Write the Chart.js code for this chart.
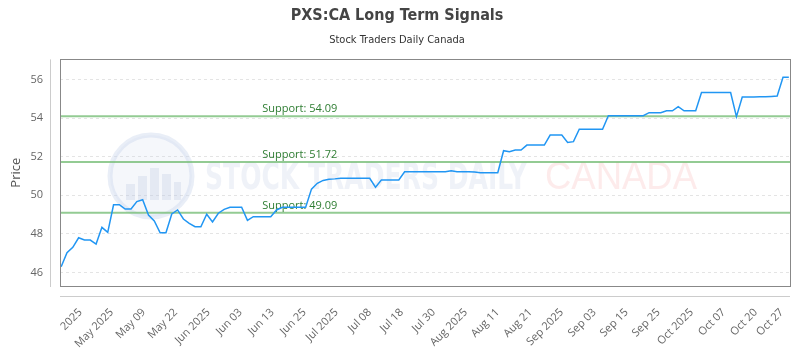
<!DOCTYPE html>
<html>
<head>
<meta charset="utf-8">
<script src="https://cdn.jsdelivr.net/npm/chart.js@4.4.1/dist/chart.umd.min.js"></script>
<style>
  html, body { margin: 0; padding: 0; background: #fff; }
  #wrap { width: 800px; height: 350px; }
</style>
</head>
<body>
<div id="wrap"><canvas id="chart"></canvas></div>
<script>
// closing prices, one per trading day
const prices = [
  46.30, 47.02, 47.30, 47.80, 47.68, 47.68, 47.47, 48.34, 48.08, 49.51,
  49.51, 49.29, 49.29, 49.67, 49.77, 48.98, 48.67, 48.06, 48.06, 49.03,
  49.24, 48.77, 48.55, 48.37, 48.37, 49.02, 48.62, 49.07, 49.27, 49.38,
  49.38, 49.38, 48.70, 48.89, 48.89, 48.89, 48.89, 49.24, 49.38, 49.38,
  49.38, 49.38, 49.38, 50.32, 50.62, 50.77, 50.83, 50.85, 50.88, 50.88,
  50.88, 50.88, 50.88, 50.88, 50.42, 50.79, 50.79, 50.79, 50.79, 51.22,
  51.22, 51.22, 51.22, 51.22, 51.22, 51.22, 51.22, 51.27, 51.22, 51.22,
  51.22, 51.20, 51.17, 51.17, 51.17, 51.17, 52.31, 52.26, 52.34, 52.34,
  52.60, 52.60, 52.60, 52.60, 53.12, 53.12, 53.12, 52.74, 52.78, 53.42,
  53.42, 53.42, 53.42, 53.42, 54.12, 54.12, 54.12, 54.12, 54.12, 54.12,
  54.12, 54.28, 54.28, 54.28, 54.38, 54.38, 54.59, 54.38, 54.38, 54.38,
  55.32, 55.32, 55.32, 55.32, 55.32, 55.32, 54.07, 55.09, 55.09, 55.09,
  55.10, 55.10, 55.12, 55.14, 56.11, 56.11
];

// where the date labels sit along the x axis (in trading-day units)
const tickIndex = [3.3, 8.7, 14.2, 19.7, 25.3, 30.8, 36.3, 41.8, 47.3, 53, 58.5, 64, 69.5, 75, 80.6, 86, 91.6, 97.1, 102.6, 108.3, 113.8, 119.3, 123.8];
const tickLabels = [
  '2025', 'May 2025', 'May 09', 'May 22', 'Jun 2025', 'Jun 03', 'Jun 13', 'Jun 25',
  'Jul 2025', 'Jul 08', 'Jul 18', 'Jul 30', 'Aug 2025', 'Aug 11', 'Aug 21',
  'Sep 2025', 'Sep 03', 'Sep 15', 'Sep 25', 'Oct 2025', 'Oct 07', 'Oct 20', 'Oct 27'
];
const yTicks = [46, 48, 50, 52, 54, 56];
const supportLevels = [54.09, 51.72, 49.09];

const decor = {
  id: 'decor',
  beforeDatasetsDraw(chart) {
    const { ctx, chartArea: a, scales } = chart;
    ctx.save();

    // watermark logo
    ctx.beginPath();
    ctx.arc(151, 176, 41, 0, Math.PI * 2);
    ctx.fillStyle = 'rgba(205,215,235,0.2)';
    ctx.fill();
    ctx.lineWidth = 5;
    ctx.strokeStyle = 'rgba(200,212,235,0.4)';
    ctx.stroke();
    ctx.fillStyle = 'rgba(190,200,225,0.3)';
    [[126, 184, 9, 16], [138, 176, 9, 24], [150, 168, 9, 32], [162, 174, 9, 26], [174, 182, 7, 18]].forEach(r => ctx.fillRect(r[0], r[1], r[2], r[3]));

    ctx.textBaseline = 'middle';
    ctx.font = 'bold 38px "DejaVu Sans Condensed", "DejaVu Sans"';
    ctx.fillStyle = 'rgba(205,215,232,0.32)';
    ctx.fillText('STOCK TRADERS DAILY', 205, 179, 322);
    ctx.font = '38px "Liberation Sans", Arial';
    ctx.fillStyle = 'rgba(250,190,190,0.3)';
    ctx.fillText('CANADA', 545, 179, 152);

    // support lines
    ctx.font = '11px "Open Sans"';
    ctx.textBaseline = 'alphabetic';
    supportLevels.forEach(v => {
      const y = scales.y.getPixelForValue(v);
      ctx.beginPath();
      ctx.moveTo(a.left, y);
      ctx.lineTo(a.right, y);
      ctx.lineWidth = 2;
      ctx.strokeStyle = 'rgba(120,190,120,0.8)';
      ctx.stroke();
      ctx.fillStyle = '#2e7d32';
      ctx.fillText('Support: ' + v.toFixed(2), a.left + a.width * 0.277, y - 4);
    });
    ctx.restore();
  },
  afterDraw(chart) {
    const { ctx, chartArea: a } = chart;
    ctx.save();
    ctx.lineWidth = 1;
    ctx.strokeStyle = '#888';
    ctx.strokeRect(Math.round(a.left) + 0.5, Math.round(a.top) + 0.5, Math.round(a.width), Math.round(a.height));
    ctx.strokeStyle = '#ccc';
    ctx.beginPath();
    ctx.moveTo(Math.round(a.left) - 9.5, a.top);
    ctx.lineTo(Math.round(a.left) - 9.5, a.bottom + 1);
    ctx.moveTo(a.left, Math.round(a.bottom) + 10.5);
    ctx.lineTo(a.right, Math.round(a.bottom) + 10.5);
    ctx.stroke();
    ctx.restore();
  }
};

new Chart(document.getElementById('chart'), {
  type: 'line',
  data: {
    datasets: [{
      label: 'Price',
      data: prices.map((p, i) => ({ x: i, y: p })),
      borderColor: '#2196f3',
      borderWidth: 1.5,
      pointRadius: 0,
      tension: 0,
      fill: false
    }]
  },
  options: {
    responsive: true,
    maintainAspectRatio: false,
    animation: false,
    layout: { autoPadding: false, padding: { left: 4, right: 10, top: 0, bottom: 0 } },
    plugins: {
      legend: { display: false },
      tooltip: { enabled: false },
      title: {
        display: true,
        text: 'PXS:CA Long Term Signals',
        color: '#444',
        font: { family: '"DejaVu Sans Condensed", "DejaVu Sans"', size: 16, weight: 'bold' },
        padding: { top: 6, bottom: 8 }
      },
      subtitle: {
        display: true,
        text: 'Stock Traders Daily Canada',
        color: '#333',
        font: { family: '"DejaVu Sans Condensed", "DejaVu Sans"', size: 11 },
        padding: { top: 0, bottom: 13 }
      }
    },
    scales: {
      x: {
        type: 'linear',
        min: -0.2,
        max: 125.2,
        grid: { display: false },
        border: { display: false },
        afterBuildTicks: s => { s.ticks = tickIndex.map(v => ({ value: v })); },
        afterFit: s => { s.height = 64; s.paddingLeft = 0; s.paddingRight = 0; },
        ticks: {
          autoSkip: false,
          maxRotation: 45,
          minRotation: 45,
          padding: 12,
          color: '#666',
          font: { family: '"Open Sans"', size: 11 },
          callback: (v, i) => tickLabels[i]
        }
      },
      y: {
        min: 45.3,
        max: 57.04,
        afterBuildTicks: s => { s.ticks = yTicks.map(v => ({ value: v })); },
        afterFit: s => { s.width = 56; },
        grid: { color: '#e4e4e4', drawTicks: false },
        border: { display: false, dash: [3, 3] },
        ticks: {
          padding: 17,
          color: '#666',
          font: { family: '"Open Sans"', size: 11 }
        },
        title: {
          display: true,
          text: 'Price',
          color: '#555',
          font: { family: '"Open Sans"', size: 13 }
        }
      }
    }
  },
  plugins: [decor]
});
</script>
</body>
</html>
